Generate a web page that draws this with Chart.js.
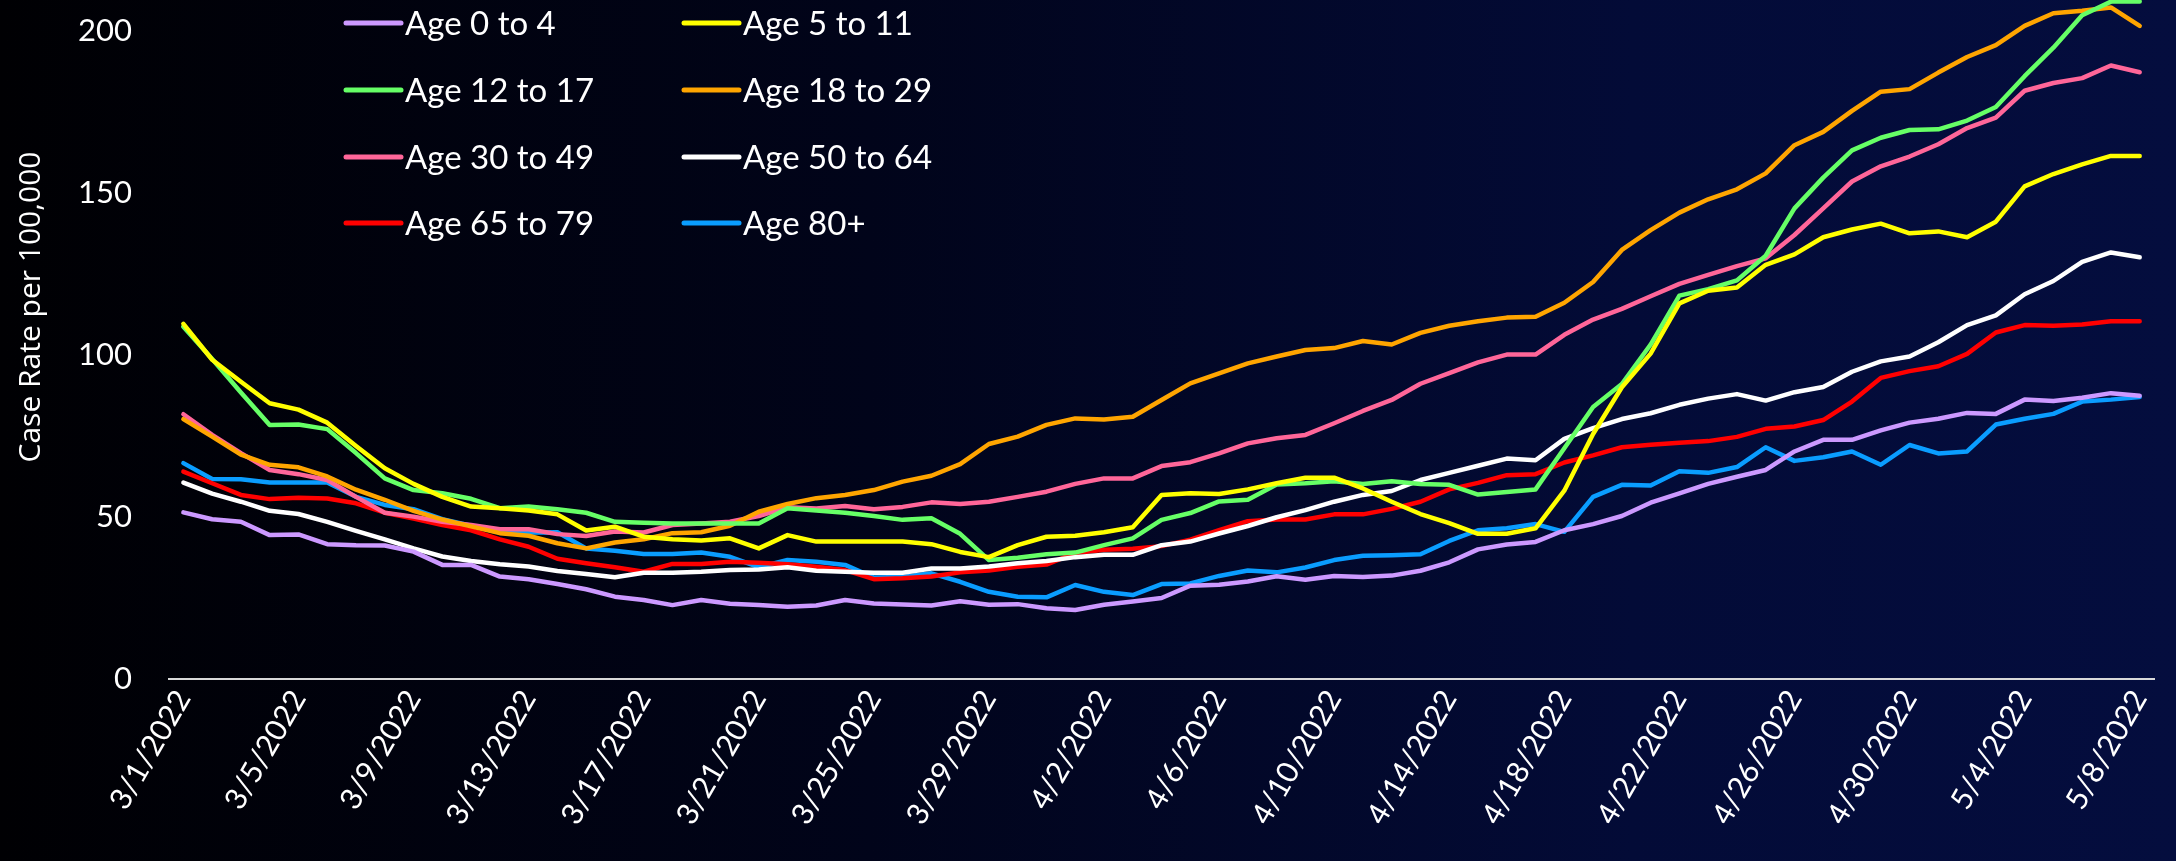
<!DOCTYPE html>
<html>
<head>
<meta charset="utf-8">
<script src="https://cdn.jsdelivr.net/npm/chart.js@4.4.1/dist/chart.umd.min.js"></script>
<style>
  html, body { margin: 0; padding: 0; background: #000; }
  #caseChart { display: block; background: linear-gradient(90deg, #000003 0%, #01041a 40%, #030b37 75%, #040d3e 100%); }
</style>
</head>
<body>
<canvas id="caseChart" width="2176" height="861"></canvas>
<script>
// daily categories 3/1/2022 .. 5/8/2022
const dates = [];
for (let d = new Date(2022, 2, 1); d <= new Date(2022, 4, 8); d.setDate(d.getDate() + 1)) {
  dates.push((d.getMonth() + 1) + '/' + d.getDate() + '/' + d.getFullYear());
}

const age0to4 = [51.4, 49.3, 48.5, 44.4, 44.6, 41.6, 41.3, 41.2, 39.3, 35.2, 35.2, 31.6, 30.8, 29.3,
  27.7, 25.4, 24.4, 22.8, 24.4, 23.2, 22.8, 22.3, 22.7, 24.4, 23.3, 23.0, 22.7, 24.0,
  22.9, 23.1, 21.8, 21.3, 22.9, 23.9, 25.0, 28.8, 29.1, 30.1, 31.7, 30.6, 31.8,
  31.5, 31.9, 33.4, 36.0, 40.0, 41.5, 42.3, 45.9, 47.8, 50.3, 54.4, 57.3, 60.2, 62.4, 64.5,
  70.2, 73.8, 73.8, 76.7, 79.1, 80.3, 82.1, 81.8, 86.2, 85.8, 86.8, 88.2, 87.4];
const age5to11 = [109.6, 98.5, 91.7, 85.1, 83.1, 79.1, 71.9, 65.0, 60.2, 56.2, 53.2, 52.7, 52.0, 50.8,
  45.8, 47.0, 43.9, 43.1, 42.7, 43.4, 40.3, 44.4, 42.4, 42.4, 42.4, 42.4, 41.6, 39.2,
  37.6, 41.3, 43.9, 44.2, 45.3, 46.8, 56.8, 57.3, 57.1, 58.5, 60.4, 62.1, 62.1,
  58.8, 54.7, 50.9, 48.1, 44.8, 44.8, 46.5, 58.1, 75.6, 90.0, 100.4, 115.9, 119.8, 120.8, 127.8,
  131.0, 136.3, 138.7, 140.5, 137.5, 138.1, 136.3, 141.1, 152.0, 155.8, 158.8, 161.4, 161.4];
const age12to17 = [108.7, 98.7, 88.4, 78.4, 78.5, 77.1, 69.7, 61.9, 58.3, 57.3, 55.6, 52.7, 53.2, 52.4,
  51.3, 48.5, 48.2, 48.0, 48.0, 48.0, 48.0, 52.7, 52.0, 51.3, 50.3, 49.1, 49.6, 44.8,
  36.7, 37.4, 38.5, 39.0, 41.3, 43.4, 49.1, 51.2, 54.8, 55.3, 60.0, 60.4, 61.0,
  60.2, 61.0, 60.2, 59.9, 56.9, 57.7, 58.5, 71.2, 83.9, 91.0, 103.2, 118.3, 120.3, 123.0, 130.6,
  145.2, 154.7, 163.1, 167.0, 169.4, 169.6, 172.3, 176.5, 186.0, 194.8, 204.8, 209.0, 209.0];
const age18to29 = [80.2, 74.8, 69.2, 66.1, 65.3, 62.5, 58.4, 55.3, 51.9, 49.2, 47.1, 45.0, 44.2, 41.9,
  40.3, 42.1, 43.1, 45.0, 45.3, 47.3, 51.6, 54.0, 55.8, 56.8, 58.3, 60.9, 62.7, 66.3,
  72.5, 74.8, 78.4, 80.4, 80.1, 80.9, 86.1, 91.2, 94.3, 97.4, 99.5, 101.5, 102.1,
  104.3, 103.2, 106.8, 109.0, 110.4, 111.5, 111.8, 116.1, 122.5, 132.4, 138.5, 143.9, 148.0, 151.1, 156.0,
  164.7, 168.8, 175.3, 181.2, 182.0, 187.1, 191.9, 195.6, 201.5, 205.4, 206.2, 207.2, 201.5];
const age30to49 = [81.7, 75.3, 69.7, 64.5, 63.2, 61.4, 56.2, 51.3, 50.1, 48.5, 47.5, 46.2, 46.2, 44.7,
  44.1, 45.5, 45.2, 47.5, 48.0, 48.5, 50.3, 53.0, 52.6, 53.4, 52.4, 53.1, 54.5, 54.0,
  54.7, 56.2, 57.8, 60.2, 61.9, 61.9, 65.7, 66.9, 69.6, 72.7, 74.3, 75.3, 78.9,
  82.7, 86.1, 91.1, 94.4, 97.7, 100.1, 100.1, 106.2, 110.9, 114.2, 118.1, 121.9, 124.7, 127.4, 129.8,
  137.0, 145.2, 153.5, 158.2, 161.2, 165.0, 170.0, 173.2, 181.5, 183.9, 185.4, 189.3, 187.2];
const age50to64 = [60.6, 57.2, 54.7, 51.9, 50.9, 48.5, 45.7, 43.1, 40.3, 37.8, 36.4, 35.4, 34.7, 33.3,
  32.4, 31.4, 32.8, 32.8, 33.1, 33.6, 33.8, 34.5, 33.4, 33.1, 32.8, 32.8, 34.1, 34.1,
  34.7, 35.7, 36.4, 37.6, 38.3, 38.3, 41.3, 42.4, 44.9, 47.2, 49.9, 52.1, 54.7,
  56.8, 58.0, 61.4, 63.6, 65.8, 68.0, 67.5, 74.1, 77.4, 80.2, 82.0, 84.6, 86.5, 87.9, 85.9,
  88.5, 90.1, 94.8, 98.0, 99.5, 103.9, 109.2, 112.2, 118.7, 122.8, 128.7, 131.6, 130.1];
const age65to79 = [64.0, 60.4, 56.8, 55.5, 55.9, 55.7, 54.2, 51.3, 49.5, 47.5, 45.9, 43.1, 40.8, 37.1,
  35.7, 34.5, 33.1, 35.5, 35.5, 36.2, 35.9, 35.4, 34.6, 33.6, 30.8, 31.1, 31.6, 32.9,
  33.5, 34.6, 35.3, 38.9, 39.9, 40.2, 41.0, 43.0, 45.9, 48.7, 49.2, 49.2, 50.8,
  50.8, 52.5, 54.7, 58.5, 60.5, 62.9, 63.2, 66.8, 69.0, 71.5, 72.3, 72.9, 73.4, 74.7, 77.2,
  77.9, 79.9, 85.6, 92.9, 95.0, 96.5, 100.3, 106.9, 109.2, 109.0, 109.4, 110.4, 110.4];
const age80plus = [66.6, 61.7, 61.6, 60.6, 60.6, 60.6, 56.2, 53.7, 52.4, 49.3, 47.3, 45.2, 45.2, 45.3,
  40.3, 39.6, 38.6, 38.6, 39.0, 37.7, 34.5, 36.7, 36.2, 35.2, 31.3, 31.5, 32.6, 30.0,
  26.9, 25.4, 25.2, 29.0, 26.9, 25.9, 29.3, 29.5, 31.8, 33.5, 32.9, 34.4, 36.7,
  38.0, 38.2, 38.5, 42.6, 45.9, 46.5, 47.8, 45.4, 56.2, 59.9, 59.7, 64.1, 63.6, 65.4, 71.5,
  67.3, 68.4, 70.2, 66.1, 72.2, 69.6, 70.2, 78.5, 80.3, 81.8, 85.6, 86.2, 87.0];

const seriesNames = ['Age 0 to 4', 'Age 5 to 11', 'Age 12 to 17', 'Age 18 to 29',
  'Age 30 to 49', 'Age 50 to 64', 'Age 65 to 79', 'Age 80+'];
const seriesData = [age0to4, age5to11, age12to17, age18to29, age30to49, age50to64, age65to79, age80plus];
const seriesColors = ['#cc99ff', '#ffff00', '#66ff66', '#ffa500', '#ff6699', '#ffffff', '#ff0000', '#0a9dff'];
const yTicks = [0, 50, 100, 150, 200];

// legend is drawn in two columns over the plot, like the original
const legendCols = [346, 684];
const legendRows = [23, 90, 157, 223];

const gridLegend = {
  id: 'gridLegend',
  afterDraw(chart) {
    const ctx = chart.ctx;
    ctx.save();
    ctx.font = '33px Lato';
    ctx.textAlign = 'left';
    ctx.textBaseline = 'alphabetic';
    chart.data.datasets.forEach((ds, i) => {
      const x = legendCols[i % 2];
      const y = legendRows[Math.floor(i / 2)];
      ctx.strokeStyle = ds.borderColor;
      ctx.lineWidth = 5;
      ctx.lineCap = 'round';
      ctx.beginPath();
      ctx.moveTo(x, y);
      ctx.lineTo(x + 55, y);
      ctx.stroke();
      ctx.fillStyle = '#ffffff';
      ctx.fillText(ds.label, x + 59, y + 12);
    });
    // y axis title
    ctx.translate(31, 307);
    ctx.rotate(-Math.PI / 2);
    ctx.font = '30px "Open Sans"';
    ctx.textAlign = 'center';
    ctx.textBaseline = 'middle';
    ctx.fillText('Case Rate per 100,000', 0, 0);
    ctx.restore();
  }
};

const ctx = document.getElementById('caseChart').getContext('2d');
const caseChart = new Chart(ctx, {
  type: 'line',
  data: {
    labels: dates,
    datasets: seriesNames.map((name, i) => ({
      label: name,
      data: seriesData[i],
      borderColor: seriesColors[i],
      backgroundColor: seriesColors[i],
      borderWidth: 4.5,
      pointRadius: 0,
      tension: 0,
      fill: false,
      borderJoinStyle: 'round',
      borderCapStyle: 'round',
      clip: 6
    }))
  },
  options: {
    responsive: false,
    animation: false,
    devicePixelRatio: 1,
    layout: { padding: { top: 0, right: 18, left: 0, bottom: 0 } },
    plugins: {
      legend: { display: false },
      tooltip: { enabled: false }
    },
    scales: {
      x: {
        offset: true,
        grid: { display: false, drawTicks: false },
        border: { display: true, color: '#d9d9d9', width: 2 },
        ticks: {
          autoSkip: false,
          minRotation: 60,
          maxRotation: 60,
          padding: 5,
          color: '#ffffff',
          font: { family: 'Lato', size: 30 },
          callback: (v, i) => (i % 4 === 0 ? dates[i] : null)
        },
        afterFit: (scale) => { scale.height = 182; }
      },
      y: {
        min: 0,
        max: 209.5,
        grid: { display: false, drawTicks: false },
        border: { display: false },
        afterBuildTicks: (scale) => { scale.ticks = yTicks.map(v => ({ value: v })); },
        ticks: {
          color: '#ffffff',
          padding: 37,
          font: { family: 'Lato', size: 31 }
        },
        afterFit: (scale) => {
          scale.width = 169;
          scale.paddingTop = 0;
          scale.paddingBottom = 0;
        }
      }
    }
  },
  plugins: [gridLegend]
});
</script>
</body>
</html>
